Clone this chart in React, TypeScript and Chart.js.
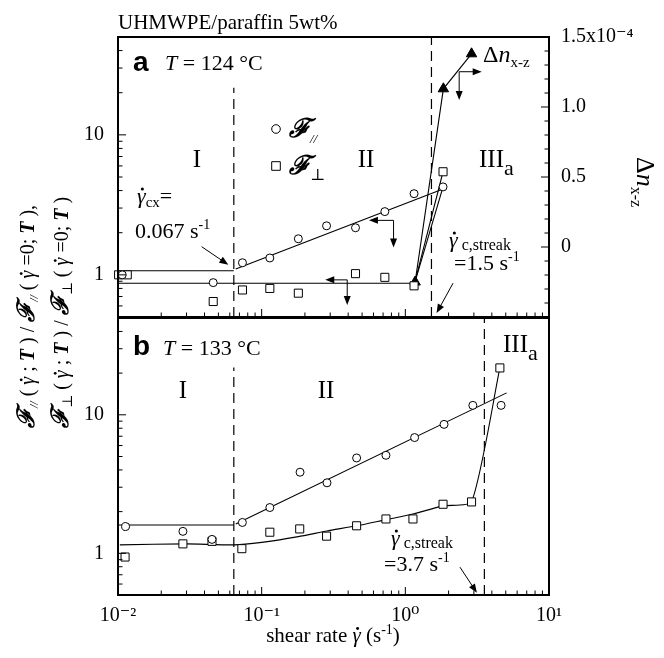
import React, { useEffect, useRef } from 'react';
import { Chart, registerables } from 'chart.js';
Chart.register(...registerables);

// ---------------- data ----------------
// Panel a  (T = 124 °C)
const A_PAR_X = [0.0107, 0.046, 0.0735, 0.114, 0.18, 0.283, 0.45, 0.72, 1.15, 1.83];
const A_PAR_Y = [1.0, 0.88, 1.22, 1.32, 1.81, 2.24, 2.17, 2.83, 3.8, 4.25];
const A_PERP_X = [0.0101, 0.0116, 0.046, 0.0735, 0.114, 0.18, 0.45, 0.72, 1.15, 1.83];
const A_PERP_Y = [1.0, 1.0, 0.645, 0.78, 0.8, 0.74, 1.02, 0.96, 0.835, 5.45];
const A_DN_X = [1.17, 1.84, 2.89];
const A_DN_Y = [-0.25, 1.13, 1.38]; // x1e-4
// fit / guide lines, panel a
const A_PAR_PLATEAU_X = [0.01, 0.064];
const A_PAR_PLATEAU_Y = [1.07, 1.07];
const A_PAR_FIT_X = [0.066, 1.83];
const A_PAR_FIT_Y = [1.1, 4.1];
const A_PAR_JUMP_X = [1.16, 1.83];
const A_PAR_JUMP_Y = [0.87, 4.25];
const A_PERP_FIT_X = [0.01, 1.16, 1.83];
const A_PERP_FIT_Y = [0.87, 0.87, 5.45];
const A_DASH_X = [0.064, 1.52];
const A_DASH_TOP = [21.7, 50];

// Panel b  (T = 133 °C)
const B_PAR_X = [0.0113, 0.0283, 0.0451, 0.0734, 0.114, 0.185, 0.285, 0.458, 0.733, 1.16, 1.86, 2.95, 4.64];
const B_PAR_Y = [1.56, 1.44, 1.26, 1.67, 2.14, 3.85, 3.23, 4.88, 5.1, 6.85, 8.53, 11.7, 11.7];
const B_PERP_X = [0.0112, 0.0283, 0.0451, 0.0728, 0.114, 0.184, 0.283, 0.458, 0.733, 1.13, 1.83, 2.89, 4.55];
const B_PERP_Y = [0.94, 1.17, 1.22, 1.08, 1.42, 1.5, 1.33, 1.58, 1.77, 1.77, 2.26, 2.35, 21.8];
const B_PAR_PLATEAU_X = [0.01, 0.064];
const B_PAR_PLATEAU_Y = [1.6, 1.6];
const B_PAR_FIT_X = [0.066, 5.07];
const B_PAR_FIT_Y = [1.63, 14.4];
const B_PERP_FIT_X = [0.0103, 0.03, 0.064, 0.1, 0.18, 0.285, 0.458, 0.733, 1.13, 1.83, 2.89, 4.55];
const B_PERP_FIT_Y = [1.15, 1.17, 1.15, 1.2, 1.32, 1.45, 1.58, 1.75, 1.92, 2.2, 2.35, 21.8];
const B_DASH_X = [0.064, 3.55];
const B_DASH_TOP = [22, 50];

// axes
const X_MIN = 0.01, X_MAX = 10;
const Y_MIN = 0.5, Y_MAX = 50;
const DN_MIN = -0.5, DN_MAX = 1.5, DN_STEP = 0.1;
const X_TICK_VALUES = [0.01, 0.1, 1, 10];
const X_TICK_LABELS = ['10\u207B\u00B2', '10\u207B\u00B9', '10\u2070', '10\u00B9'];
const Y_TICK_VALUES = [1, 10];
const Y_TICK_LABELS = ['1', '10'];
const DN_TICK_VALUES = [0, 0.5, 1.0, 1.5];
const DN_TICK_LABELS = ['0', '0.5', '1.0', '1.5x10\u207B\u2074'];

// ---------------- helpers ----------------
const SERIF = "'Liberation Serif', 'DejaVu Serif', serif";
const SANS = "'Liberation Sans', 'DejaVu Sans', sans-serif";
const fnt = (size: number, style = '') => `${style} ${size}px ${SERIF}`.trim();
const SF = '\u2131';

const pts = (xs: number[], ys: number[]) => xs.map((x, i) => ({ x, y: ys[i] }));

function logTicks(min: number, max: number) {
  const out: { value: number }[] = [];
  for (let e = Math.floor(Math.log10(min)); e <= Math.ceil(Math.log10(max)); e++) {
    for (let m = 1; m <= 9; m++) {
      const v = Number((m * Math.pow(10, e)).toPrecision(8));
      if (v >= min * (1 - 1e-9) && v <= max * (1 + 1e-9)) out.push({ value: v });
    }
  }
  return out;
}
function linTicks(min: number, max: number, step: number) {
  const out: { value: number }[] = [];
  const n = Math.round((max - min) / step);
  for (let i = 0; i <= n; i++) out.push({ value: Number((min + i * step).toFixed(6)) });
  return out;
}
function labelFor(v: number, vals: number[], labels: string[]) {
  for (let i = 0; i < vals.length; i++) {
    if (Math.abs(v - vals[i]) <= 1e-6 * Math.max(1, Math.abs(vals[i]))) return labels[i];
  }
  return '';
}

type Run = { t: string; f: string; dy?: number; dot?: number };
type TextItem = { x: number; y: number; align?: 'left' | 'center' | 'right'; rot?: number; runs: Run[] };

// gamma with a dot above (shear rate symbol)
const gdot = (size: number, style = 'italic'): Run => ({ t: '\u03B3', f: fnt(size, style), dot: size });

function drawText(ctx: CanvasRenderingContext2D, item: TextItem) {
  ctx.save();
  ctx.translate(item.x, item.y);
  if (item.rot) ctx.rotate(item.rot);
  let total = 0;
  item.runs.forEach((r) => { ctx.font = r.f; total += ctx.measureText(r.t).width; });
  let cx = item.align === 'center' ? -total / 2 : item.align === 'right' ? -total : 0;
  ctx.textAlign = 'left';
  ctx.textBaseline = 'alphabetic';
  ctx.fillStyle = '#000';
  item.runs.forEach((r) => {
    ctx.font = r.f;
    const w = ctx.measureText(r.t).width;
    ctx.fillText(r.t, cx, r.dy || 0);
    if (r.dot) {
      ctx.beginPath();
      ctx.arc(cx + w * 0.62, (r.dy || 0) - r.dot * 0.64, r.dot * 0.07, 0, Math.PI * 2);
      ctx.fill();
    }
    cx += w;
  });
  ctx.restore();
}

function head(ctx: CanvasRenderingContext2D, x1: number, y1: number, x2: number, y2: number, len = 9, w = 3.5) {
  const a = Math.atan2(y2 - y1, x2 - x1);
  const bx = x2 - len * Math.cos(a), by = y2 - len * Math.sin(a);
  ctx.beginPath();
  ctx.moveTo(x2, y2);
  ctx.lineTo(bx + w * Math.sin(a), by - w * Math.cos(a));
  ctx.lineTo(bx - w * Math.sin(a), by + w * Math.cos(a));
  ctx.closePath();
  ctx.fill();
}
function arrowLine(ctx: CanvasRenderingContext2D, x1: number, y1: number, x2: number, y2: number) {
  const a = Math.atan2(y2 - y1, x2 - x1);
  ctx.beginPath();
  ctx.moveTo(x1, y1);
  ctx.lineTo(x2 - 6 * Math.cos(a), y2 - 6 * Math.sin(a));
  ctx.stroke();
  head(ctx, x1, y1, x2, y2);
}

const decoPlugin = {
  id: 'deco',
  afterDraw(chart: any) {
    const o = chart.options.plugins.deco || {};
    const ctx: CanvasRenderingContext2D = chart.ctx;
    const a = chart.chartArea;
    ctx.save();
    ctx.strokeStyle = '#000';
    ctx.fillStyle = '#000';
    ctx.lineWidth = 1;
    // inward tick marks from the library's scales
    Object.values(chart.scales).forEach((s: any) => {
      s.ticks.forEach((t: any) => {
        const v = t.value;
        const p = s.getPixelForValue(v);
        let major: boolean;
        if (s.type === 'logarithmic') {
          const l = Math.log10(v);
          major = Math.abs(l - Math.round(l)) < 1e-6;
        } else major = Math.abs(v * 2 - Math.round(v * 2)) < 1e-6;
        const len = major ? 8 : 4.5;
        ctx.beginPath();
        if (s.isHorizontal()) { ctx.moveTo(p, a.bottom); ctx.lineTo(p, a.bottom - len); }
        else if (s.position === 'left') { ctx.moveTo(a.left, p); ctx.lineTo(a.left + len, p); }
        else { ctx.moveTo(a.right, p); ctx.lineTo(a.right - len, p); }
        ctx.stroke();
      });
    });
    ctx.lineWidth = 2;
    ctx.strokeRect(a.left, a.top, a.right - a.left, a.bottom - a.top);
    // arrows (in data coordinates)
    ctx.lineWidth = 1;
    (o.arrows || []).forEach((ar: any) => {
      const xs = chart.scales.x, ys = chart.scales[ar.y];
      if (ar.kind === 'line') {
        arrowLine(ctx, xs.getPixelForValue(ar.from[0]), ys.getPixelForValue(ar.from[1]),
          xs.getPixelForValue(ar.to[0]), ys.getPixelForValue(ar.to[1]));
      } else {
        const cx = xs.getPixelForValue(ar.corner[0]), cy = ys.getPixelForValue(ar.corner[1]);
        arrowLine(ctx, cx, cy, xs.getPixelForValue(ar.hTip), cy);
        arrowLine(ctx, cx, cy, cx, ys.getPixelForValue(ar.vTip));
      }
    });
    // legend markers
    (o.markers || []).forEach((m: any) => {
      ctx.beginPath();
      if (m.shape === 'circle') ctx.arc(m.x, m.y, 4.3, 0, Math.PI * 2);
      else ctx.rect(m.x - 4.3, m.y - 4.3, 8.6, 8.6);
      ctx.fillStyle = '#fff';
      ctx.fill();
      ctx.stroke();
      ctx.fillStyle = '#000';
    });
    (o.texts || []).forEach((t: TextItem) => drawText(ctx, t));
    ctx.restore();
  },
};

const pointSet = (xs: number[], ys: number[], style: string, r: number, extra: any = {}) => ({
  data: pts(xs, ys),
  showLine: false,
  pointStyle: style,
  pointRadius: r,
  pointBorderWidth: 1,
  pointBorderColor: '#000',
  pointBackgroundColor: '#fff',
  clip: false,
  ...extra,
});
const lineSet = (xs: number[], ys: number[], extra: any = {}) => ({
  data: pts(xs, ys),
  showLine: true,
  pointRadius: 0,
  borderColor: '#000',
  borderWidth: 1.1,
  fill: false,
  ...extra,
});
const dashSet = (x: number, top: number) => lineSet([x, x], [Y_MIN, top], { borderDash: [10, 6], borderWidth: 1.2 });

const logAxis = (min: number, max: number, extra: any) => ({
  type: 'logarithmic',
  min,
  max,
  afterBuildTicks: (s: any) => { s.ticks = logTicks(s.min, s.max); },
  grid: { display: false },
  border: { display: false },
  ...extra,
});

const tickFont = { family: SERIF, size: 20 };

// ---------------- annotation texts ----------------
const subPar = (size = 13, dy = 5): Run => ({ t: '//', f: fnt(size, 'italic'), dy });
const subPerp = (size = 15, dy = 5): Run => ({ t: '\u22A5', f: fnt(size), dy });

const yTitle = (sub: Run, tail: string): Run[] => [
  { t: SF, f: fnt(24, 'bold italic') }, sub,
  { t: ' ( ', f: fnt(20) }, gdot(20), { t: ' ; ', f: fnt(20) },
  { t: 'T', f: fnt(20, 'bold italic') }, { t: ' ) / ', f: fnt(20) },
  { t: SF, f: fnt(24, 'bold italic') }, sub,
  { t: ' ( ', f: fnt(20) }, gdot(20), { t: ' =0; ', f: fnt(20) },
  { t: 'T', f: fnt(20, 'bold italic') }, { t: tail, f: fnt(20) },
];

const A_TEXTS: TextItem[] = [
  { x: 118, y: 29, runs: [{ t: 'UHMWPE/paraffin 5wt%', f: fnt(21) }] },
  { x: 133, y: 71, runs: [{ t: 'a', f: `bold 28px ${SANS}` }] },
  { x: 165, y: 70, runs: [{ t: 'T', f: fnt(22, 'italic') }, { t: ' = 124 \u00B0C', f: fnt(22) }] },
  { x: 197, y: 167, align: 'center', runs: [{ t: 'I', f: fnt(25) }] },
  { x: 366, y: 167, align: 'center', runs: [{ t: 'II', f: fnt(25) }] },
  { x: 479, y: 167, runs: [{ t: 'III', f: fnt(25) }, { t: 'a', f: fnt(22), dy: 8 }] },
  { x: 289, y: 137, runs: [{ t: SF, f: fnt(26, 'bold italic') }, subPar(13, 6)] },
  { x: 289, y: 174, runs: [{ t: SF, f: fnt(26, 'bold italic') }, subPerp(16, 6)] },
  { x: 137, y: 203, runs: [gdot(22), { t: 'cx', f: fnt(15), dy: 4 }, { t: '=', f: fnt(22) }] },
  { x: 135, y: 238, runs: [{ t: '0.067 s', f: fnt(22) }, { t: '-1', f: fnt(14), dy: -9 }] },
  { x: 449, y: 247, runs: [gdot(22), { t: ' c,streak', f: fnt(16), dy: 3 }] },
  { x: 454, y: 270, runs: [{ t: '=1.5 s', f: fnt(22) }, { t: '-1', f: fnt(14), dy: -9 }] },
  { x: 483, y: 62, runs: [{ t: '\u0394', f: fnt(24) }, { t: 'n', f: fnt(24, 'italic') }, { t: 'x-z', f: fnt(15), dy: 5 }] },
  { x: 637, y: 157, rot: Math.PI / 2, runs: [{ t: '\u0394', f: fnt(26) }, { t: 'n', f: fnt(26, 'italic') }, { t: 'x-z', f: fnt(16), dy: 6 }] },
  { x: 34, y: 428, rot: -Math.PI / 2, runs: yTitle(subPar(12, 4), ' ),') },
  { x: 68, y: 428, rot: -Math.PI / 2, runs: yTitle(subPerp(14, 4), ' )') },
];
const A_MARKERS = [
  { shape: 'circle', x: 276, y: 129 },
  { shape: 'rect', x: 276, y: 166 },
];
const A_ARROWS = [
  { kind: 'corner', y: 'y', corner: [0.828, 2.45], hTip: 0.558, vTip: 1.57 },
  { kind: 'corner', y: 'y', corner: [0.394, 0.921], hTip: 0.277, vTip: 0.61 },
  { kind: 'corner', y: 'yR', corner: [2.37, 1.252], hTip: 3.4, vTip: 1.05 },
  { kind: 'line', y: 'y', from: [0.0382, 1.59], to: [0.0586, 1.18] },
  { kind: 'line', y: 'y', from: [2.15, 0.873], to: [1.65, 0.533] },
];

const B_TEXTS: TextItem[] = [
  { x: 133, y: 355, runs: [{ t: 'b', f: `bold 28px ${SANS}` }] },
  { x: 163, y: 355, runs: [{ t: 'T', f: fnt(22, 'italic') }, { t: ' = 133 \u00B0C', f: fnt(22) }] },
  { x: 183, y: 398, align: 'center', runs: [{ t: 'I', f: fnt(25) }] },
  { x: 326, y: 398, align: 'center', runs: [{ t: 'II', f: fnt(25) }] },
  { x: 503, y: 352, runs: [{ t: 'III', f: fnt(25) }, { t: 'a', f: fnt(22), dy: 8 }] },
  { x: 391, y: 545, runs: [gdot(22), { t: ' c,streak', f: fnt(16), dy: 3 }] },
  { x: 384, y: 571, runs: [{ t: '=3.7 s', f: fnt(22) }, { t: '-1', f: fnt(14), dy: -9 }] },
  { x: 333, y: 642, align: 'center', runs: [
    { t: 'shear rate ', f: fnt(21) }, gdot(21), { t: ' (s', f: fnt(21) },
    { t: '-1', f: fnt(14), dy: -8 }, { t: ')', f: fnt(21) }] },
];
const B_ARROWS = [{ kind: 'line', y: 'y', from: [2.4, 0.794], to: [3.15, 0.518] }];

const W = 664, H = 658;
const LEFT_W = 118, RIGHT_W = 115;

function buildA(): any {
  return {
    type: 'scatter',
    data: {
      datasets: [
        pointSet(A_PAR_X, A_PAR_Y, 'circle', 4),
        pointSet(A_PERP_X, A_PERP_Y, 'rect', 5.7),
        pointSet(A_DN_X, A_DN_Y, 'triangle', 6, { yAxisID: 'yR', pointBackgroundColor: '#000' }),
        lineSet(A_PAR_PLATEAU_X, A_PAR_PLATEAU_Y),
        lineSet(A_PAR_FIT_X, A_PAR_FIT_Y),
        lineSet(A_PAR_JUMP_X, A_PAR_JUMP_Y),
        lineSet(A_PERP_FIT_X, A_PERP_FIT_Y),
        lineSet(A_DN_X, A_DN_Y, { yAxisID: 'yR' }),
        ...A_DASH_X.map((x, i) => dashSet(x, A_DASH_TOP[i])),
      ],
    },
    options: {
      animation: false,
      responsive: false,
      devicePixelRatio: 1,
      layout: { padding: { top: 37, bottom: H - 317, left: 0, right: 0 } },
      plugins: {
        legend: { display: false },
        tooltip: { enabled: false },
        deco: { texts: A_TEXTS, markers: A_MARKERS, arrows: A_ARROWS },
      },
      scales: {
        x: logAxis(X_MIN, X_MAX, {
          position: 'bottom',
          afterFit: (s: any) => { s.height = 0; },
          ticks: { display: false },
        }),
        y: logAxis(Y_MIN, Y_MAX, {
          position: 'left',
          afterFit: (s: any) => { s.width = LEFT_W; },
          ticks: { autoSkip: false, padding: 6, color: '#000', font: tickFont,
            callback: (v: number) => labelFor(v, Y_TICK_VALUES, Y_TICK_LABELS) },
        }),
        yR: {
          type: 'linear',
          position: 'right',
          min: DN_MIN,
          max: DN_MAX,
          afterBuildTicks: (s: any) => { s.ticks = linTicks(DN_MIN, DN_MAX, DN_STEP); },
          afterFit: (s: any) => { s.width = RIGHT_W; },
          grid: { display: false },
          border: { display: false },
          ticks: { autoSkip: false, padding: 4, color: '#000', font: tickFont,
            callback: (v: number) => labelFor(v, DN_TICK_VALUES, DN_TICK_LABELS) },
        },
      },
    },
    plugins: [decoPlugin],
  };
}

function buildB(): any {
  return {
    type: 'scatter',
    data: {
      datasets: [
        pointSet(B_PAR_X, B_PAR_Y, 'circle', 4),
        pointSet(B_PERP_X, B_PERP_Y, 'rect', 5.7),
        lineSet(B_PAR_PLATEAU_X, B_PAR_PLATEAU_Y),
        lineSet(B_PAR_FIT_X, B_PAR_FIT_Y),
        lineSet(B_PERP_FIT_X, B_PERP_FIT_Y, { tension: 0.2 }),
        ...B_DASH_X.map((x, i) => dashSet(x, B_DASH_TOP[i])),
      ],
    },
    options: {
      animation: false,
      responsive: false,
      devicePixelRatio: 1,
      layout: { padding: { top: 318, bottom: 0, left: 0, right: RIGHT_W } },
      plugins: {
        legend: { display: false },
        tooltip: { enabled: false },
        deco: { texts: B_TEXTS, arrows: B_ARROWS },
      },
      scales: {
        x: logAxis(X_MIN, X_MAX, {
          position: 'bottom',
          afterFit: (s: any) => { s.height = H - 595; },
          ticks: { autoSkip: false, maxRotation: 0, padding: 1, color: '#000', font: tickFont,
            callback: (v: number) => labelFor(v, X_TICK_VALUES, X_TICK_LABELS) },
        }),
        y: logAxis(Y_MIN, Y_MAX, {
          position: 'left',
          afterFit: (s: any) => { s.width = LEFT_W; },
          ticks: { autoSkip: false, padding: 6, color: '#000', font: tickFont,
            callback: (v: number) => labelFor(v, Y_TICK_VALUES, Y_TICK_LABELS) },
        }),
      },
    },
    plugins: [decoPlugin],
  };
}

export default function App() {
  const refA = useRef<HTMLCanvasElement>(null);
  const refB = useRef<HTMLCanvasElement>(null);
  useEffect(() => {
    const ca = new Chart(refA.current as HTMLCanvasElement, buildA());
    const cb = new Chart(refB.current as HTMLCanvasElement, buildB());
    return () => { ca.destroy(); cb.destroy(); };
  }, []);
  const cs: React.CSSProperties = { position: 'absolute', left: 0, top: 0, width: W, height: H };
  return (
    <div style={{ position: 'fixed', left: 0, top: 0, width: W, height: H, background: '#fff' }}>
      <canvas ref={refA} width={W} height={H} style={cs} />
      <canvas ref={refB} width={W} height={H} style={cs} />
    </div>
  );
}
